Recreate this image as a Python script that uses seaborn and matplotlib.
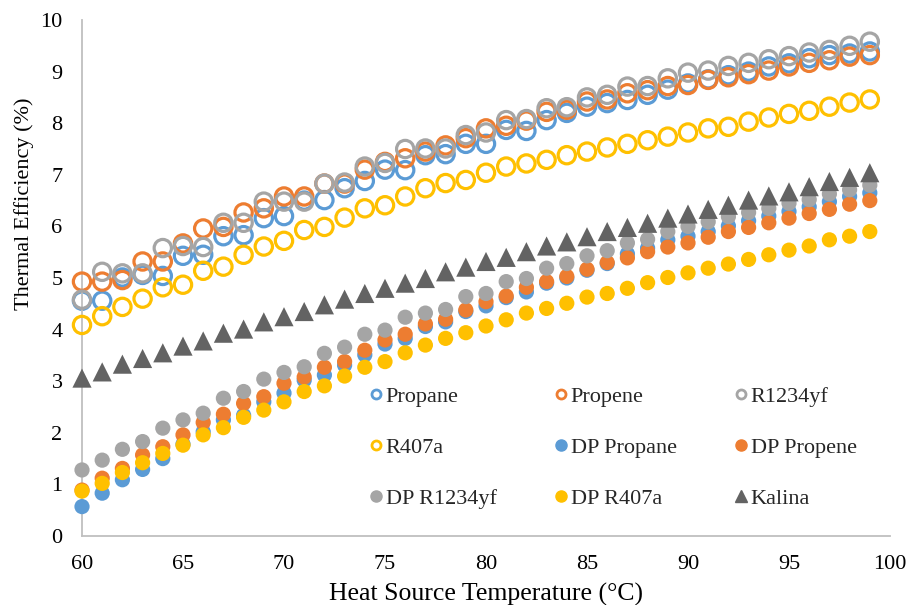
import matplotlib
matplotlib.use("Agg")
import matplotlib.pyplot as plt
from matplotlib.lines import Line2D
import seaborn as sns
import pandas as pd

temperature = list(range(60, 100))

propane = [4.56, 4.56, 5.01, 5.06, 5.04, 5.43, 5.45, 5.81, 5.83, 6.16, 6.2, 6.5, 6.51, 6.74, 6.88,
           7.1, 7.09, 7.38, 7.4, 7.6, 7.6, 7.87, 7.85, 8.06, 8.2, 8.32, 8.39, 8.45, 8.55, 8.65,
           8.77, 8.85, 8.93, 9.0, 9.1, 9.16, 9.26, 9.32, 9.35, 9.39]
propene = [4.93, 4.93, 4.96, 5.32, 5.32, 5.67, 5.96, 5.99, 6.27, 6.35, 6.58, 6.58, 6.83, 6.83, 7.1,
           7.25, 7.32, 7.45, 7.57, 7.71, 7.9, 7.95, 8.05, 8.22, 8.26, 8.42, 8.46, 8.58, 8.64, 8.72,
           8.74, 8.84, 8.89, 8.95, 9.02, 9.1, 9.17, 9.22, 9.29, 9.32]
r1234yf = [4.58, 5.12, 5.09, 5.09, 5.58, 5.62, 5.6, 6.07, 6.07, 6.48, 6.48, 6.48, 6.83, 6.85, 7.16,
           7.23, 7.5, 7.51, 7.51, 7.77, 7.82, 8.06, 8.08, 8.29, 8.31, 8.5, 8.55, 8.71, 8.72, 8.87,
           8.98, 9.02, 9.11, 9.17, 9.24, 9.3, 9.37, 9.42, 9.5, 9.58]
r407a = [4.09, 4.26, 4.44, 4.6, 4.82, 4.87, 5.14, 5.22, 5.45, 5.61, 5.72, 5.93, 5.99, 6.17, 6.35,
         6.41, 6.58, 6.74, 6.84, 6.9, 7.04, 7.16, 7.22, 7.29, 7.38, 7.45, 7.53, 7.6, 7.67, 7.74,
         7.82, 7.9, 7.93, 8.03, 8.11, 8.18, 8.24, 8.32, 8.4, 8.46]
dp_propane = [0.57, 0.83, 1.09, 1.29, 1.5, 1.78, 2.02, 2.25, 2.34, 2.6, 2.77, 3.02, 3.12, 3.31, 3.51,
              3.72, 3.83, 4.06, 4.15, 4.35, 4.46, 4.62, 4.73, 4.9, 5.0, 5.15, 5.28, 5.47, 5.58, 5.74,
              5.81, 5.9, 6.01, 6.11, 6.2, 6.29, 6.38, 6.48, 6.58, 6.65]
dp_propene = [0.89, 1.12, 1.31, 1.57, 1.73, 1.96, 2.2, 2.36, 2.57, 2.7, 2.96, 3.08, 3.27, 3.38, 3.6,
              3.8, 3.91, 4.11, 4.2, 4.38, 4.54, 4.65, 4.82, 4.93, 5.03, 5.17, 5.3, 5.39, 5.51, 5.6,
              5.68, 5.79, 5.9, 5.98, 6.07, 6.16, 6.25, 6.33, 6.43, 6.5]
dp_r1234yf = [1.28, 1.47, 1.68, 1.83, 2.09, 2.25, 2.38, 2.67, 2.8, 3.04, 3.17, 3.28, 3.54, 3.66, 3.91,
              3.99, 4.24, 4.32, 4.39, 4.64, 4.7, 4.93, 4.99, 5.19, 5.28, 5.43, 5.53, 5.68, 5.75, 5.9,
              6.0, 6.09, 6.19, 6.27, 6.35, 6.45, 6.52, 6.63, 6.71, 6.8]
dp_r407a = [0.87, 1.02, 1.23, 1.42, 1.6, 1.76, 1.96, 2.1, 2.3, 2.44, 2.6, 2.8, 2.91, 3.1, 3.27,
            3.38, 3.55, 3.7, 3.83, 3.94, 4.07, 4.19, 4.32, 4.41, 4.51, 4.63, 4.7, 4.8, 4.91, 5.01,
            5.1, 5.19, 5.27, 5.36, 5.45, 5.54, 5.62, 5.74, 5.81, 5.9]
kalina = [3.06, 3.18, 3.33, 3.44, 3.55, 3.68, 3.78, 3.93, 4.01, 4.15, 4.25, 4.35, 4.48, 4.59, 4.7,
          4.8, 4.9, 4.99, 5.12, 5.21, 5.32, 5.4, 5.51, 5.62, 5.7, 5.8, 5.9, 5.98, 6.06, 6.16,
          6.24, 6.33, 6.41, 6.51, 6.59, 6.67, 6.77, 6.87, 6.95, 7.04]

series_names = ["Propane", "Propene", "R1234yf", "R407a", "DP Propane", "DP Propene",
                "DP R1234yf", "DP R407a", "Kalina"]
series_values = [propane, propene, r1234yf, r407a, dp_propane, dp_propene, dp_r1234yf, dp_r407a, kalina]

BLUE, ORANGE, GRAY, YELLOW, DARK = "#5B9BD5", "#ED7D31", "#A5A5A5", "#FFC000", "#636363"
styles = {
    "Propane": dict(color=BLUE, kind="open"),
    "Propene": dict(color=ORANGE, kind="open"),
    "R1234yf": dict(color=GRAY, kind="open"),
    "R407a": dict(color=YELLOW, kind="open"),
    "DP Propane": dict(color=BLUE, kind="filled"),
    "DP Propene": dict(color=ORANGE, kind="filled"),
    "DP R1234yf": dict(color=GRAY, kind="filled"),
    "DP R407a": dict(color=YELLOW, kind="filled"),
    "Kalina": dict(color=DARK, kind="triangle"),
}

sns.set_theme(style="white")
plt.rcParams["font.family"] = ["Liberation Serif", "DejaVu Serif"]

fig = plt.figure(figsize=(9.11, 6.05), dpi=100)
ax = fig.add_axes([82 / 911, 1 - 536 / 605, (890 - 82) / 911, (536 - 20) / 605])

for i, (name, vals) in enumerate(zip(series_names, series_values)):
    st = styles[name]
    df = pd.DataFrame({"T": temperature, "eff": vals})
    if st["kind"] == "open":
        sns.scatterplot(data=df, x="T", y="eff", ax=ax, marker="o", s=155,
                        facecolors="none", edgecolor=st["color"], linewidth=2.3,
                        legend=False, clip_on=False, zorder=2 + i)
    elif st["kind"] == "filled":
        sns.scatterplot(data=df, x="T", y="eff", ax=ax, marker="o", s=120,
                        color=st["color"], edgecolor="none", linewidth=0,
                        legend=False, clip_on=False, zorder=2 + i)
    else:
        sns.scatterplot(data=df, x="T", y="eff", ax=ax, marker="^", s=190,
                        color=st["color"], edgecolor="none", linewidth=0,
                        legend=False, clip_on=False, zorder=2 + i)

ax.set_xlim(60, 100)
ax.set_ylim(0, 10)
ax.set_xticks(range(60, 101, 5))
ax.set_yticks(range(0, 11, 1))
ax.tick_params(axis="both", length=0, labelsize=16, colors="black")
ax.tick_params(axis="x", pad=14)
ax.tick_params(axis="y", pad=14)

for side in ["top", "right"]:
    ax.spines[side].set_visible(False)
for side in ["left", "bottom"]:
    ax.spines[side].set_color("#BFBFBF")
    ax.spines[side].set_linewidth(1.3)
ax.grid(False)

ax.set_xlabel("Heat Source Temperature (°C)", fontsize=18.5, color="black")
ax.set_ylabel("Thermal Efficiency (%)", fontsize=16, color="black")
ax.xaxis.set_label_coords((486 - 82) / 808, -(583 - 536) / 516)
ax.yaxis.set_label_coords(-(82 - 34) / 808, (536 - 204) / 516)

# legend handles (Excel row-major order -> matplotlib column-major)
def handle(name):
    st = styles[name]
    if st["kind"] == "open":
        return Line2D([], [], linestyle="none", marker="o", markersize=6.5,
                      markerfacecolor="white", markeredgecolor=st["color"], markeredgewidth=2)
    if st["kind"] == "filled":
        return Line2D([], [], linestyle="none", marker="o", markersize=8,
                      markerfacecolor=st["color"], markeredgecolor=st["color"])
    return Line2D([], [], linestyle="none", marker="^", markersize=8,
                  markerfacecolor=st["color"], markeredgecolor=st["color"])

order = ["Propane", "R407a", "DP R1234yf",
         "Propene", "DP Propane", "DP R407a",
         "R1234yf", "DP Propene", "Kalina"]
leg = ax.legend([handle(n) for n in order], order, ncol=3, frameon=False,
                fontsize=16, handlelength=0.5, handletextpad=0.2,
                columnspacing=2.63, labelspacing=1.37,
                loc="upper left", bbox_to_anchor=((370 - 82) / 808, (536 - 386) / 516),
                borderaxespad=0, borderpad=0)

fig.savefig("out.png", dpi=100, facecolor="white")
